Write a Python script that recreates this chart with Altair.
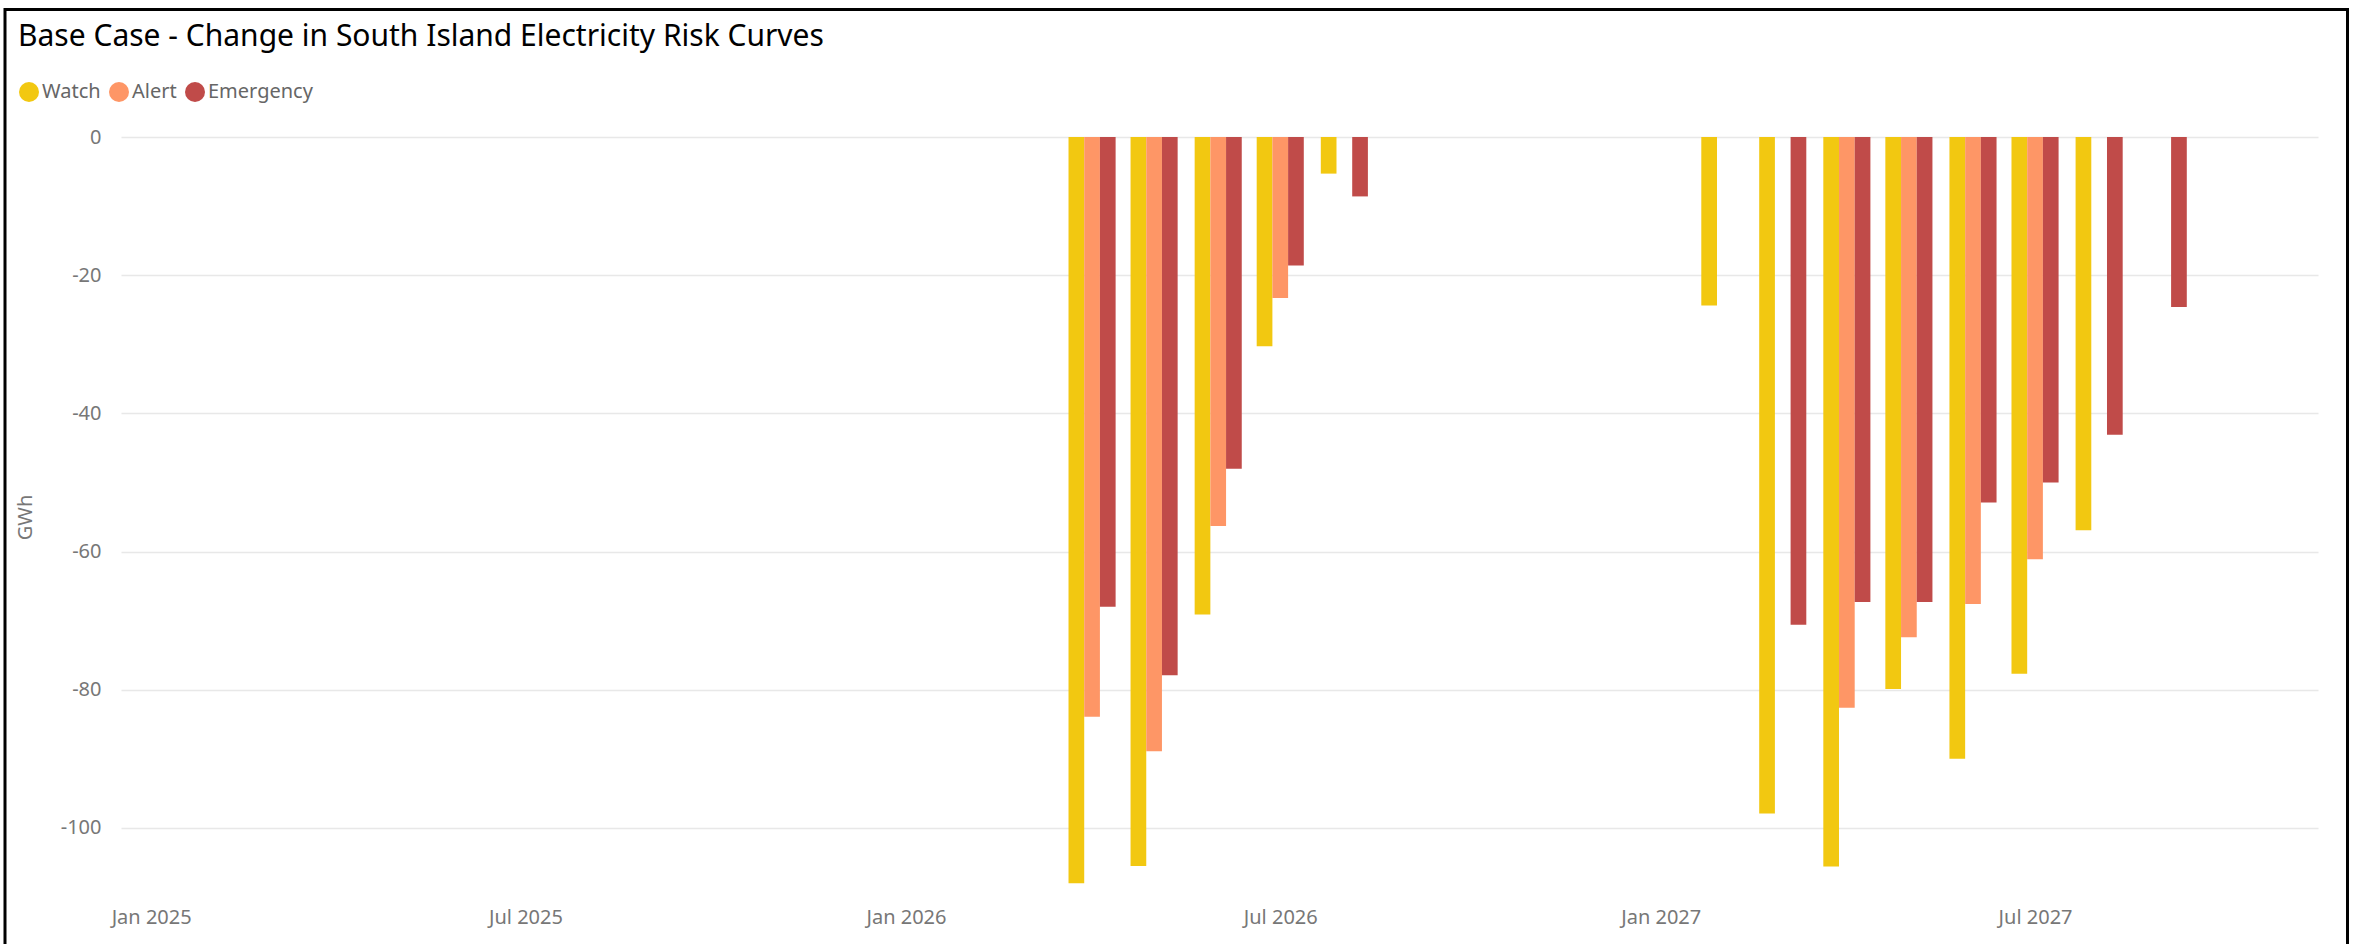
import altair as alt
import pandas as pd

# ---- data ----
months = ["2026-04-01", "2026-05-01", "2026-06-01", "2026-07-01", "2026-08-01",
          "2027-02-01", "2027-03-01", "2027-04-01", "2027-05-01", "2027-06-01",
          "2027-07-01", "2027-08-01", "2027-09-01"]
watch = [-108.0, -105.5, -69.1, -30.3, -5.3,
         -24.4, -97.9, -105.6, -79.9, -90.0, -77.7, -56.9, None]
alert = [-83.9, -88.9, -56.3, -23.3, None,
         None, None, -82.6, -72.4, -67.6, -61.1, None, None]
emergency = [-68.0, -77.9, -48.0, -18.6, -8.6,
             None, -70.6, -67.3, -67.3, -52.9, -50.0, -43.1, -24.6]

series = ["Watch", "Alert", "Emergency"]
colors = ["#F2C811", "#FE9666", "#C04B49"]
y_ticks = [0, -20, -40, -60, -80, -100]
x_tick_dates = [(2025, 1), (2025, 7), (2026, 1), (2026, 7), (2027, 1), (2027, 7)]

rows = []
for s, vals in zip(series, [watch, alert, emergency]):
    for m, v in zip(months, vals):
        if v is not None:
            rows.append({"Month": m, "Series": s, "GWh": v})
df = pd.DataFrame(rows)

FONT = "Noto Sans"
BAR_W = 15.7
offsets = [-BAR_W, 0, BAR_W]

x_enc = alt.X(
    "Month:T",
    title=None,
    scale=alt.Scale(
        type="utc",
        nice=False,
        domain=[alt.DateTime(year=2024, month=12, date=19, hours=20, utc=True),
                alt.DateTime(year=2027, month=11, date=12, hours=10, utc=True)],
    ),
    axis=alt.Axis(
        values=[alt.DateTime(year=y, month=m, date=1, utc=True) for y, m in x_tick_dates],
        format="%b %Y",
        labelFont=FONT, labelFontSize=20, labelColor="#777777",
        labelPadding=10, ticks=False, domain=False, grid=False,
        labelFlush=False, labelOverlap=False,
    ),
)
y_enc = alt.Y(
    "GWh:Q",
    title="GWh",
    scale=alt.Scale(domain=[-110, 0], nice=False, zero=True),
    axis=alt.Axis(
        values=y_ticks,
        labelExpr="datum.value + ''",
        labelFont=FONT, labelFontSize=20, labelColor="#777777",
        labelPadding=20, ticks=False, domain=False,
        grid=True, gridColor="#E8E8E8", gridWidth=1.5,
        titleFont=FONT, titleFontSize=20, titleColor="#777777",
        titleFontWeight="normal", titlePadding=25,
    ),
)
color_enc = alt.Color(
    "Series:N",
    scale=alt.Scale(domain=series, range=colors),
    legend=alt.Legend(
        title=None, orient="none", direction="horizontal",
        legendX=-102, legendY=-55,
        symbolType="circle", symbolSize=400, symbolStrokeWidth=0,
        symbolOpacity=1,
        labelFont=FONT, labelFontSize=20, labelColor="#666666",
        labelOffset=3, columnPadding=8,
    ),
)

base = alt.Chart(df)
layers = []
for s, off in zip(series, offsets):
    layers.append(
        base.transform_filter(alt.datum.Series == s)
        .mark_bar(width=BAR_W, xOffset=off)
        .encode(x=x_enc, y=y_enc, color=color_enc)
    )

frame = alt.Chart(pd.DataFrame({"k": [0]})).mark_rect(
    fillOpacity=0, stroke="black", strokeWidth=3, clip=False
).encode(
    x=alt.value(-116), x2=alt.value(2226.5),
    y=alt.value(-127.5), y2=alt.value(830),
)

chart = alt.layer(*layers, frame).properties(
    width=2197,
    height=760,
    background="white",
    padding={"left": 121, "top": 137, "right": 36, "bottom": 47},
    autosize=alt.AutoSizeParams(type="none"),
    title=alt.TitleParams(
        text="Base Case - Change in South Island Electricity Risk Curves",
        anchor="start", frame="group", orient="top",
        font=FONT, fontSize=30, fontWeight="normal", color="#000000",
        dx=-103, dy=48,
    ),
).configure_view(strokeWidth=0, stroke="transparent")

chart.save("out.html", embed_options={"renderer": "svg", "actions": False})
